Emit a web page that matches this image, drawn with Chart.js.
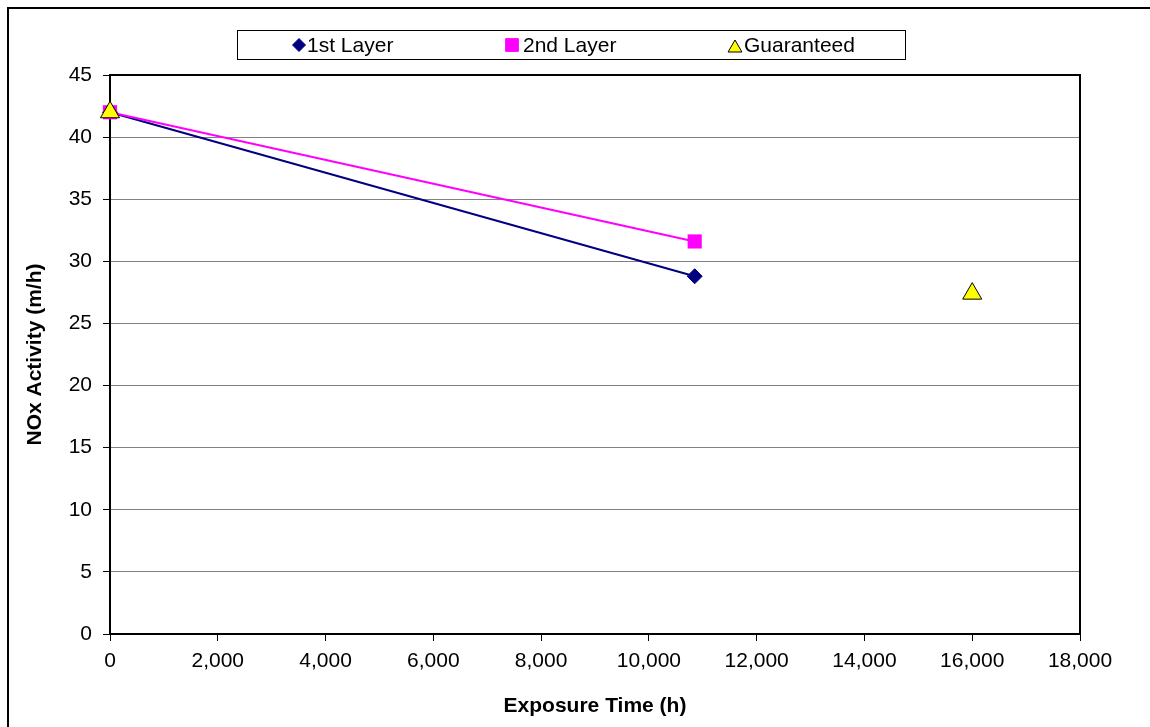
<!DOCTYPE html>
<html>
<head>
<meta charset="UTF-8">
<title>NOx Activity</title>
<script src="https://cdn.jsdelivr.net/npm/chart.js"></script>
<style>
  html, body { margin: 0; padding: 0; background: #fff; }
  #wrap { width: 1150px; height: 727px; }
</style>
</head>
<body>
<div id="wrap"><canvas id="chart" width="1150" height="727"></canvas></div>
<script>
// data
const seriesNames = ["1st Layer", "2nd Layer", "Guaranteed"];
const layer1 = [{x: 0, y: 42}, {x: 10850, y: 28.8}];
const layer2 = [{x: 0, y: 42}, {x: 10850, y: 31.6}];
const guaranteed = [{x: 0, y: 42}, {x: 16000, y: 27.4}];
const xTicks = [0, 2000, 4000, 6000, 8000, 10000, 12000, 14000, 16000, 18000];
const yTicks = [0, 5, 10, 15, 20, 25, 30, 35, 40, 45];

const FONT = "'Liberation Sans', Arial, sans-serif";

// white background, frame lines, plot border and the boxed legend
const frame = {
  id: "frame",
  beforeDraw(chart) {
    const ctx = chart.ctx;
    ctx.save();
    ctx.fillStyle = "#fff";
    ctx.fillRect(0, 0, chart.width, chart.height);
    ctx.strokeStyle = "#000";
    ctx.lineWidth = 2;
    ctx.beginPath();
    ctx.moveTo(8, chart.height);
    ctx.lineTo(8, 8);
    ctx.lineTo(chart.width, 8);
    ctx.stroke();
    ctx.restore();
  },
  beforeDatasetsDraw(chart) {
    const ctx = chart.ctx;
    const a = chart.chartArea;
    ctx.save();
    ctx.strokeStyle = "#000";
    ctx.lineWidth = 2;
    ctx.strokeRect(a.left, a.top, a.right - a.left, a.bottom - a.top);
    ctx.restore();
  },
  afterDraw(chart) {
    const ctx = chart.ctx;
    ctx.save();
    ctx.fillStyle = "#fff";
    ctx.fillRect(237, 30, 668, 29);
    ctx.strokeStyle = "#000";
    ctx.lineWidth = 1;
    ctx.strokeRect(237.5, 30.5, 668, 29);
    const items = [
      {cx: 299, tx: 307, style: "rectRot", r: 6.5, fill: "#000080", line: "#000080"},
      {cx: 512, tx: 523, style: "rect", r: 9, fill: "#FF00FF", line: "#FF00FF"},
      {cx: 735, tx: 744, style: "triangle", r: 8, fill: "#FFFF00", line: "#000"}
    ];
    ctx.font = "21px " + FONT;
    ctx.textBaseline = "middle";
    items.forEach((it, i) => {
      ctx.fillStyle = it.fill;
      ctx.strokeStyle = it.line;
      ctx.lineWidth = 1;
      Chart.helpers.drawPoint(ctx, {pointStyle: it.style, radius: it.r, borderWidth: 1}, it.cx, it.style === "triangle" ? 48 : 45);
      ctx.fillStyle = "#000";
      ctx.fillText(seriesNames[i], it.tx, 46);
    });
    ctx.restore();
  }
};

new Chart(document.getElementById("chart"), {
  type: "scatter",
  data: {
    datasets: [
      {
        label: seriesNames[0], data: layer1, showLine: true, order: 2, clip: false,
        borderColor: "#000080", backgroundColor: "#000080", borderWidth: 2,
        pointStyle: "rectRot", pointRadius: 7.5, pointBorderWidth: 1
      },
      {
        label: seriesNames[1], data: layer2, showLine: true, order: 1, clip: false,
        borderColor: "#FF00FF", backgroundColor: "#FF00FF", borderWidth: 2,
        pointStyle: "rect", pointRadius: 10, pointBorderWidth: 0
      },
      {
        label: seriesNames[2], data: guaranteed, showLine: false, order: 0, clip: false,
        borderColor: "#000", backgroundColor: "#FFFF00",
        pointStyle: "triangle", pointRadius: 11, pointBorderWidth: 1
      }
    ]
  },
  options: {
    responsive: false,
    animation: false,
    layout: { padding: { left: 0, top: 75, right: 70, bottom: 0 } },
    plugins: { legend: { display: false }, tooltip: { enabled: false } },
    scales: {
      x: {
        type: "linear", min: 0, max: 18000,
        afterFit(s) { s.height = 93; },
        afterBuildTicks(s) { s.ticks = xTicks.map(v => ({value: v})); },
        grid: { drawOnChartArea: false, tickLength: 7, color: "#000", lineWidth: 1 },
        border: { display: false },
        ticks: {
          color: "#000", padding: 8, maxRotation: 0,
          font: { family: FONT, size: 21 },
          callback: v => v.toLocaleString("en-US")
        },
        title: {
          display: true, text: "Exposure Time (h)", color: "#000",
          font: { family: FONT, size: 21, weight: "bold" },
          padding: { top: 0, bottom: 8 }
        }
      },
      y: {
        type: "linear", min: 0, max: 45,
        afterFit(s) { s.width = 110; },
        afterBuildTicks(s) { s.ticks = yTicks.map(v => ({value: v})); },
        grid: { color: "#808080", lineWidth: 1, tickLength: 7, tickColor: "#000" },
        border: { display: false },
        ticks: {
          color: "#000", padding: 11,
          font: { family: FONT, size: 21 }
        },
        title: {
          display: true, text: "NOx Activity (m/h)", color: "#000",
          font: { family: FONT, size: 21, weight: "bold" },
          padding: { top: 23, bottom: 0 }
        }
      }
    }
  },
  plugins: [frame]
});
</script>
</body>
</html>
